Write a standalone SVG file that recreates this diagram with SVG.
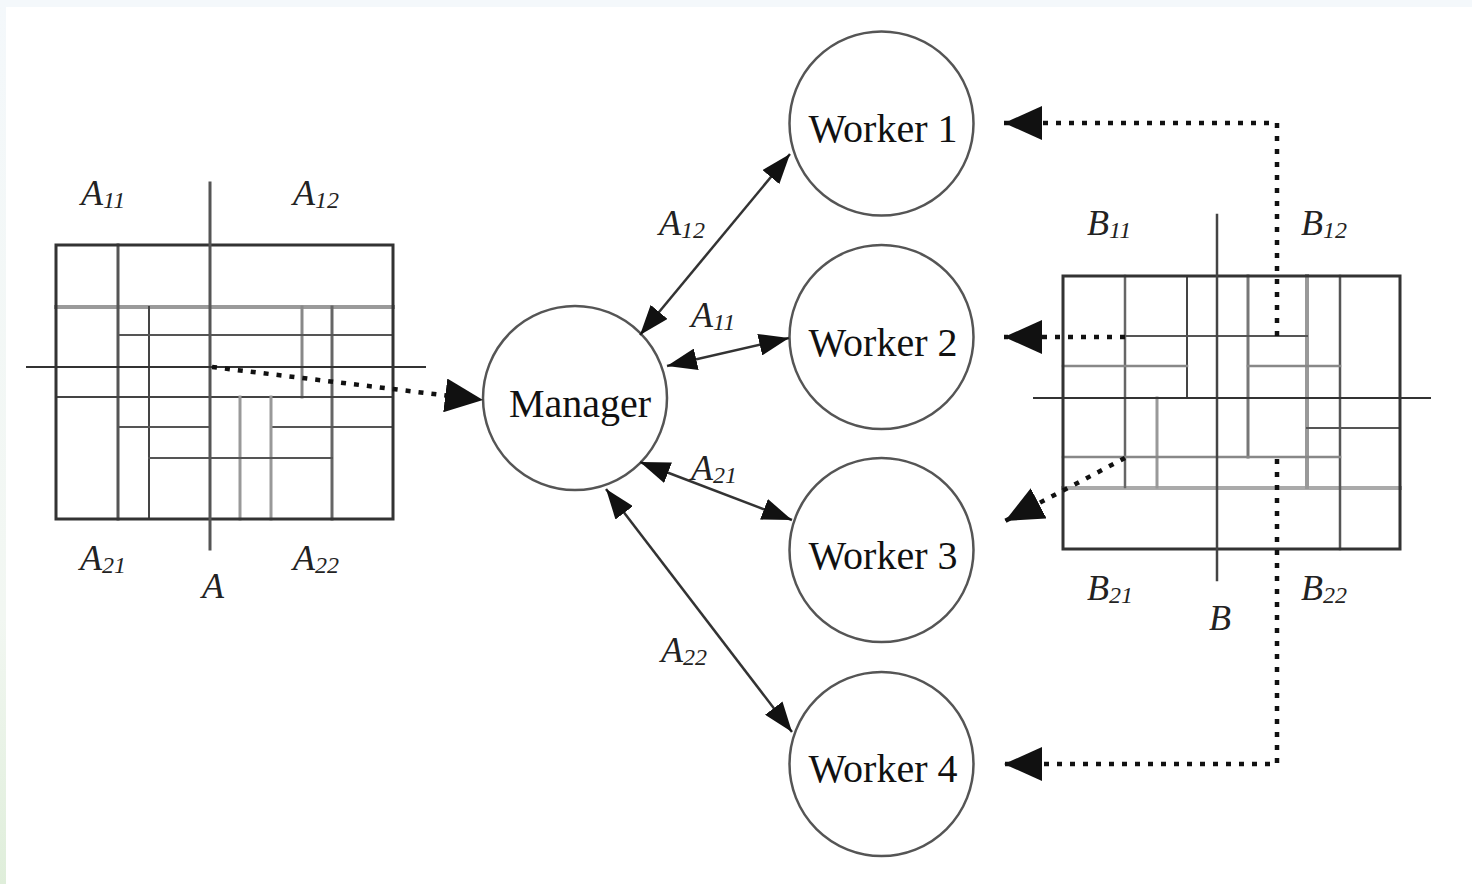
<svg xmlns="http://www.w3.org/2000/svg" width="1472" height="884" viewBox="0 0 1472 884">
  <style>
    .node circle { fill: #ffffff; stroke: #555555; stroke-width: 2.5; }
    .node text { font-family: "Liberation Serif", "Times New Roman", serif; font-size: 40px; fill: #111111; text-anchor: middle; }
    .lbl { font-family: "Liberation Serif", "Times New Roman", serif; font-style: italic; font-size: 36px; fill: #222222; }
    .sub { font-size: 24px; }
    .grid line { stroke-linecap: square; }
    .frame { fill: none; stroke: #333333; stroke-width: 3; }
    .solid { fill: none; stroke: #333333; stroke-width: 2.5; marker-start: url(#head); marker-end: url(#head); }
    .dotted { fill: none; stroke: #111111; stroke-width: 4.5; stroke-dasharray: 5 8; marker-end: url(#bigHead); }
  </style>
  <defs>
    <marker id="head" markerUnits="userSpaceOnUse" markerWidth="30" markerHeight="22" viewBox="0 0 30 22" refX="30" refY="11" orient="auto-start-reverse">
      <path d="M0,0 L30,11 L0,22 z" fill="#111111"/>
    </marker>
    <marker id="bigHead" markerUnits="userSpaceOnUse" markerWidth="38" markerHeight="34" viewBox="0 0 38 34" refX="38" refY="17" orient="auto">
      <path d="M0,0 L38,17 L0,34 z" fill="#111111"/>
    </marker>
    <linearGradient id="edge" x1="0" y1="0" x2="0" y2="1">
      <stop offset="0" stop-color="#f4f8fb"/>
      <stop offset="0.7" stop-color="#f2f7f2"/>
      <stop offset="1" stop-color="#dfeeda"/>
    </linearGradient>
  </defs>

  <!-- page background with thin tinted border -->
  <rect x="0" y="0" width="1472" height="884" fill="#ffffff"/>
  <rect x="0" y="0" width="1472" height="7" fill="#f4f8fb"/>
  <rect x="0" y="0" width="6" height="884" fill="url(#edge)"/>

  <!-- Matrix A, split into quadrants -->
  <g id="matrixA" class="grid">
    <line x1="56" y1="307" x2="393" y2="307" stroke="#9a9a9a" stroke-width="4"/>
    <line x1="118" y1="245" x2="118" y2="519" stroke="#555555" stroke-width="3"/>
    <line x1="149" y1="307" x2="149" y2="519" stroke="#444444" stroke-width="2"/>
    <line x1="302" y1="307" x2="302" y2="397" stroke="#888888" stroke-width="3"/>
    <line x1="332" y1="307" x2="332" y2="519" stroke="#666666" stroke-width="3"/>
    <line x1="118" y1="335" x2="393" y2="335" stroke="#555555" stroke-width="2"/>
    <line x1="56" y1="397" x2="393" y2="397" stroke="#444444" stroke-width="2"/>
    <line x1="118" y1="427" x2="210" y2="427" stroke="#555555" stroke-width="2"/>
    <line x1="271" y1="427" x2="393" y2="427" stroke="#555555" stroke-width="2"/>
    <line x1="240" y1="397" x2="240" y2="519" stroke="#999999" stroke-width="3"/>
    <line x1="271" y1="397" x2="271" y2="519" stroke="#999999" stroke-width="3"/>
    <line x1="149" y1="458" x2="332" y2="458" stroke="#555555" stroke-width="2"/>
    <rect class="frame" x="56" y="245" width="337" height="274"/>
    <line x1="210" y1="183" x2="210" y2="549" stroke="#555555" stroke-width="3"/>
    <line x1="27" y1="367" x2="425" y2="367" stroke="#333333" stroke-width="2"/>
    <text class="lbl" x="81" y="205">A<tspan class="sub" dy="3">11</tspan></text>
    <text class="lbl" x="293" y="205">A<tspan class="sub" dy="3">12</tspan></text>
    <text class="lbl" x="80" y="570">A<tspan class="sub" dy="3">21</tspan></text>
    <text class="lbl" x="293" y="570">A<tspan class="sub" dy="3">22</tspan></text>
    <text class="lbl" x="202" y="598">A</text>
  </g>

  <!-- Matrix B, split into quadrants -->
  <g id="matrixB" class="grid">
    <line x1="1063" y1="488" x2="1400" y2="488" stroke="#aaaaaa" stroke-width="4"/>
    <line x1="1125" y1="276" x2="1125" y2="487" stroke="#666666" stroke-width="2.5"/>
    <line x1="1187" y1="276" x2="1187" y2="398" stroke="#444444" stroke-width="2"/>
    <line x1="1248" y1="276" x2="1248" y2="457" stroke="#777777" stroke-width="3"/>
    <line x1="1307" y1="276" x2="1307" y2="487" stroke="#999999" stroke-width="4"/>
    <line x1="1340" y1="276" x2="1340" y2="549" stroke="#555555" stroke-width="2.5"/>
    <line x1="1125" y1="336" x2="1307" y2="336" stroke="#555555" stroke-width="2"/>
    <line x1="1063" y1="366" x2="1187" y2="366" stroke="#888888" stroke-width="2.5"/>
    <line x1="1248" y1="366" x2="1340" y2="366" stroke="#888888" stroke-width="2.5"/>
    <line x1="1157" y1="398" x2="1157" y2="487" stroke="#999999" stroke-width="3"/>
    <line x1="1307" y1="428" x2="1400" y2="428" stroke="#555555" stroke-width="2"/>
    <line x1="1063" y1="457" x2="1340" y2="457" stroke="#888888" stroke-width="2.5"/>
    <rect class="frame" x="1063" y="276" width="337" height="273"/>
    <line x1="1217" y1="215" x2="1217" y2="580" stroke="#444444" stroke-width="2.5"/>
    <line x1="1034" y1="398" x2="1430" y2="398" stroke="#333333" stroke-width="2"/>
    <text class="lbl" x="1087" y="235">B<tspan class="sub" dy="3">11</tspan></text>
    <text class="lbl" x="1301" y="235">B<tspan class="sub" dy="3">12</tspan></text>
    <text class="lbl" x="1087" y="600">B<tspan class="sub" dy="3">21</tspan></text>
    <text class="lbl" x="1301" y="600">B<tspan class="sub" dy="3">22</tspan></text>
    <text class="lbl" x="1209" y="630">B</text>
  </g>

  <!-- Processes -->
  <g id="manager" class="node">
    <circle cx="575" cy="398" r="92"/>
    <text x="580" y="417">Manager</text>
  </g>
  <g id="worker1" class="node">
    <circle cx="881.5" cy="123.5" r="92"/>
    <text x="883" y="142">Worker 1</text>
  </g>
  <g id="worker2" class="node">
    <circle cx="881.5" cy="337" r="92"/>
    <text x="883" y="356">Worker 2</text>
  </g>
  <g id="worker3" class="node">
    <circle cx="881.5" cy="550" r="92"/>
    <text x="883" y="569">Worker 3</text>
  </g>
  <g id="worker4" class="node">
    <circle cx="881.5" cy="764" r="92"/>
    <text x="883" y="782">Worker 4</text>
  </g>

  <!-- Connectors -->
  <g id="connectors">
    <path class="dotted" d="M212,367 L483,400"/>
    <path class="solid" d="M640,335 L790,154"/>
    <path class="solid" d="M667,366 L789,338"/>
    <path class="solid" d="M640,462 L792,520"/>
    <path class="solid" d="M606,489 L792,732"/>
    <text class="lbl" x="659" y="235">A<tspan class="sub" dy="3">12</tspan></text>
    <text class="lbl" x="691" y="327">A<tspan class="sub" dy="3">11</tspan></text>
    <text class="lbl" x="691" y="480">A<tspan class="sub" dy="3">21</tspan></text>
    <text class="lbl" x="661" y="662">A<tspan class="sub" dy="3">22</tspan></text>
    <path class="dotted" d="M1277,336 V123 H1004"/>
    <path class="dotted" d="M1125,337 H1004"/>
    <path class="dotted" d="M1125,458 L1005,521"/>
    <path class="dotted" d="M1277,459 V764 H1004"/>
  </g>
</svg>
